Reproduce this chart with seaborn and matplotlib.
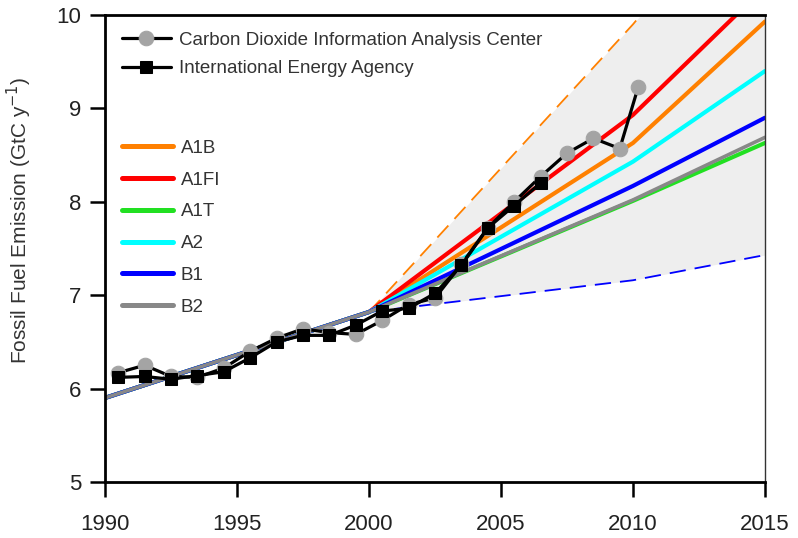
import numpy as np
import pandas as pd
import matplotlib
matplotlib.use("Agg")
import matplotlib.pyplot as plt
import seaborn as sns

# observed emissions
cdiac_years = [1990.5, 1991.5, 1992.5, 1993.5, 1994.5, 1995.5, 1996.5, 1997.5, 1998.5, 1999.5,
               2000.5, 2001.5, 2002.5, 2003.5, 2004.5, 2005.5, 2006.5, 2007.5, 2008.5, 2009.5, 2010.2]
cdiac_vals = [6.17, 6.25, 6.13, 6.12, 6.22, 6.40, 6.54, 6.64, 6.60, 6.58,
              6.73, 6.90, 6.97, 7.33, 7.72, 8.00, 8.27, 8.52, 8.68, 8.57, 9.23]

iea_years = [1990.5, 1991.5, 1992.5, 1993.5, 1994.5, 1995.5, 1996.5, 1997.5, 1998.5, 1999.5,
             2000.5, 2001.5, 2002.5, 2003.5, 2004.5, 2005.5, 2006.5]
iea_vals = [6.12, 6.13, 6.10, 6.14, 6.18, 6.33, 6.50, 6.57, 6.57, 6.68,
            6.83, 6.86, 7.02, 7.32, 7.72, 7.96, 8.20]

# SRES scenarios
scen_years = [1990, 2000, 2010, 2015]
scen_names = ['A1B', 'A1FI', 'A1T', 'A2', 'B1', 'B2']
a1b = [5.9, 6.82, 8.63, 9.93]
a1fi = [5.9, 6.82, 8.93, 10.3]
a1t = [5.9, 6.82, 8.01, 8.63]
a2 = [5.9, 6.82, 8.43, 9.40]
b1 = [5.9, 6.82, 8.17, 8.90]
b2 = [5.9, 6.82, 8.02, 8.69]
scen_colors = ['#ff8000', '#ff0000', '#22e022', '#00ffff', '#0000ff', '#888888']

# envelope of all scenarios
env_years = [2000, 2010, 2015]
env_upper = [6.82, 9.9, 11.6]
env_lower = [6.82, 7.16, 7.43]

sns.set_style("ticks")
plt.rcParams['font.family'] = ['Liberation Sans', 'DejaVu Sans']

fig = plt.figure(figsize=(7.98, 5.38), dpi=100)
ax = fig.add_axes([0.1316, 0.1041, 0.827, 0.868])

ax.fill_between(env_years, env_lower, env_upper, color='#eeeeee', lw=0, zorder=0)
sns.lineplot(x=env_years, y=env_upper, color='#ff8000', lw=1.3, ax=ax)
ax.lines[-1].set_dashes([9, 5])
sns.lineplot(x=env_years, y=env_lower, color='#0000ff', lw=1.3, ax=ax)
ax.lines[-1].set_dashes([9, 5])

scen_vals = [a1b, a1fi, a1t, a2, b1, b2]
scen_handles = []
for name, vals, col in zip(scen_names, scen_vals, scen_colors):
    sns.lineplot(x=scen_years, y=vals, color=col, lw=3 if name != 'B2' else 2.6, ax=ax)
    scen_handles.append(ax.lines[-1])

sns.lineplot(x=cdiac_years, y=cdiac_vals, color='black', lw=2.3, marker='o', markersize=10.5,
             markerfacecolor='#a4a4a4', markeredgecolor='#a4a4a4', ax=ax)
h_cdiac = ax.lines[-1]
sns.lineplot(x=iea_years, y=iea_vals, color='black', lw=2.3, marker='s', markersize=9,
             markerfacecolor='black', markeredgecolor='black', ax=ax)
h_iea = ax.lines[-1]

ax.set_xlim(1990, 2015)
ax.set_ylim(5, 10)
ax.set_xticks([1990, 1995, 2000, 2005, 2010, 2015])
ax.set_yticks([5, 6, 7, 8, 9, 10])
ax.tick_params(direction='out', length=11, width=1.8, labelsize=16, colors='black',
               labelcolor='#222222')
ax.tick_params(axis='x', pad=12)
ax.tick_params(axis='y', pad=6)
ax.set_ylabel('Fossil Fuel Emission (GtC y$^{-1}$)', fontsize=15, color='#333333')
ax.yaxis.set_label_coords(-0.108, 0.56)
ax.set_xlabel('')
for side in ['left', 'bottom', 'top']:
    ax.spines[side].set_linewidth(2)
    ax.spines[side].set_color('black')
ax.spines['right'].set_linewidth(1)
ax.spines['right'].set_color('#333333')

leg1 = ax.legend([h_cdiac, h_iea],
                 ['Carbon Dioxide Information Analysis Center', 'International Energy Agency'],
                 loc='upper left', bbox_to_anchor=(0.0, 1.0), frameon=False, fontsize=13.5,
                 handlelength=2.6, handletextpad=0.45, labelspacing=0.6, labelcolor='#333333')
ax.add_artist(leg1)
leg2 = ax.legend(scen_handles, scen_names, loc='upper left', bbox_to_anchor=(0.0, 0.769),
                 frameon=False, fontsize=13.5, handlelength=2.7, handletextpad=0.45,
                 labelspacing=0.78, labelcolor='#333333')
for h in leg2.get_lines():
    h.set_linewidth(3.6)

fig.savefig('out.png', dpi=100)
